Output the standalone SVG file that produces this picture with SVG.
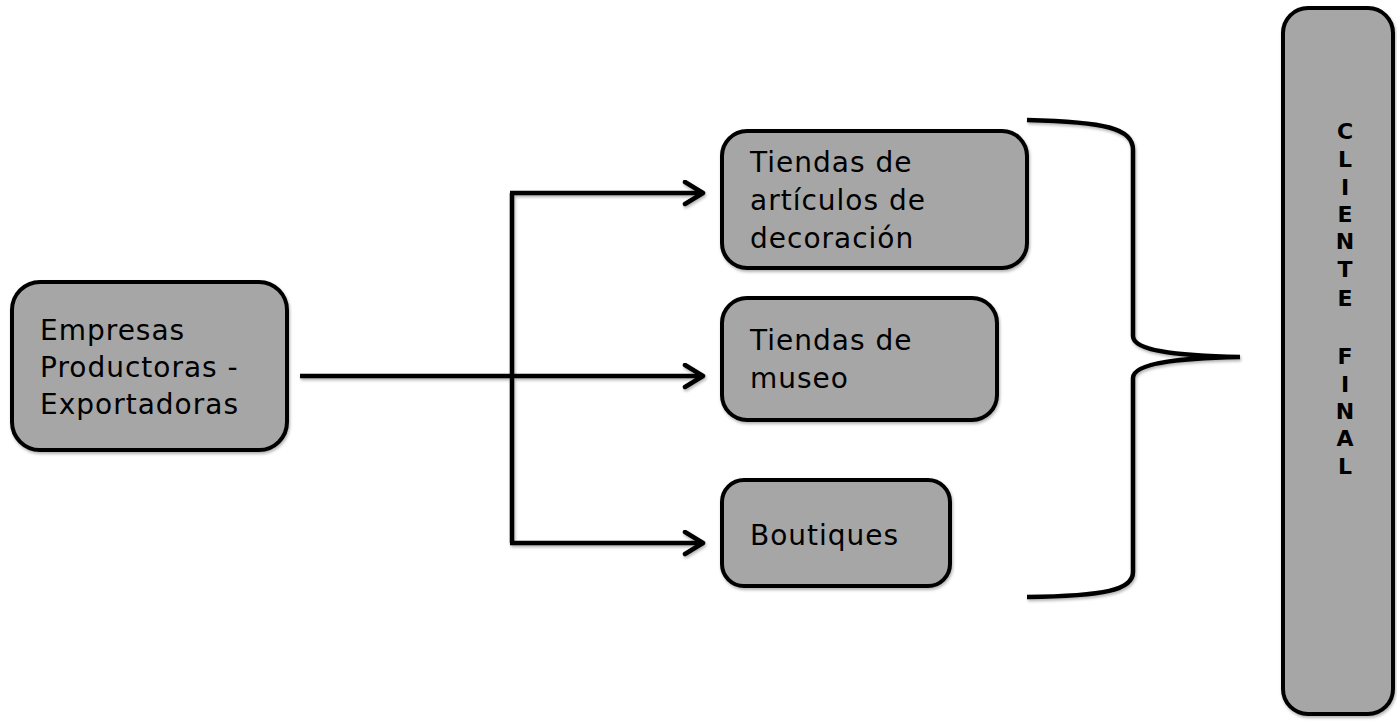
<svg xmlns="http://www.w3.org/2000/svg" width="1397" height="721" viewBox="0 0 1397 721">
<defs>
<style>
.box{fill:#a6a6a6;stroke:#000;stroke-width:4}
.lbl{font-family:"DejaVu Sans","Liberation Sans",sans-serif;font-size:28px;fill:#000;letter-spacing:1px}
.v{font-family:"DejaVu Sans","Liberation Sans",sans-serif;font-size:22px;font-weight:bold;fill:#000;text-anchor:middle}
.ln{fill:none;stroke:#000;stroke-width:4.5}
</style>
<filter id="sh" x="-10%" y="-10%" width="120%" height="130%">
<feDropShadow dx="1" dy="2" stdDeviation="1.5" flood-color="#000" flood-opacity="0.3"/>
</filter>
<marker id="arr" markerWidth="26" markerHeight="30" refX="21" refY="13" orient="auto" markerUnits="userSpaceOnUse">
<path d="M3,2 L21,13 L3,24" fill="none" stroke="#000" stroke-width="4.5" stroke-linecap="round" stroke-linejoin="round"/>
</marker>
</defs>
<rect width="1397" height="721" fill="#fff"/>
<g id="connectors" filter="url(#sh)">
<path class="ln" d="M300,376 L703,376" marker-end="url(#arr)"/>
<path class="ln" d="M512,193 L512,543"/>
<path class="ln" d="M510,193 L703,193" marker-end="url(#arr)"/>
<path class="ln" d="M510,543 L703,543" marker-end="url(#arr)"/>
<path class="ln" d="M1027,120 C1105,122 1133,128 1133,150 L1133,336 C1133,352 1185,356 1240,357 C1185,358 1133,362 1133,378 L1133,572 C1133,590 1105,596 1027,597"/>
</g>
<g id="empresas">
<rect class="box" x="12" y="282" width="275" height="168" rx="28" filter="url(#sh)"/>
<text class="lbl" x="40" y="340">Empresas</text>
<text class="lbl" x="40" y="377">Productoras  -</text>
<text class="lbl" x="40" y="414">Exportadoras</text>
</g>
<g id="decoracion">
<rect class="box" x="722" y="131" width="305" height="137" rx="25" filter="url(#sh)"/>
<text class="lbl" x="750" y="172">Tiendas de</text>
<text class="lbl" x="750" y="210">artículos de</text>
<text class="lbl" x="750" y="248">decoración</text>
</g>
<g id="museo">
<rect class="box" x="722" y="298" width="275" height="122" rx="25" filter="url(#sh)"/>
<text class="lbl" x="750" y="350">Tiendas de</text>
<text class="lbl" x="750" y="388">museo</text>
</g>
<g id="boutiques">
<rect class="box" x="722" y="480" width="228" height="106" rx="22" filter="url(#sh)"/>
<text class="lbl" x="750" y="545">Boutiques</text>
</g>
<g id="cliente">
<rect class="box" x="1283" y="8" width="110" height="706" rx="25" filter="url(#sh)"/>
<text class="v" x="1345" y="139">C</text>
<text class="v" x="1345" y="167">L</text>
<text class="v" x="1345" y="195">I</text>
<text class="v" x="1345" y="222">E</text>
<text class="v" x="1345" y="249">N</text>
<text class="v" x="1345" y="277">T</text>
<text class="v" x="1345" y="306">E</text>
<text class="v" x="1345" y="364">F</text>
<text class="v" x="1345" y="392">I</text>
<text class="v" x="1345" y="419">N</text>
<text class="v" x="1345" y="446">A</text>
<text class="v" x="1345" y="474">L</text>
</g>
</svg>
